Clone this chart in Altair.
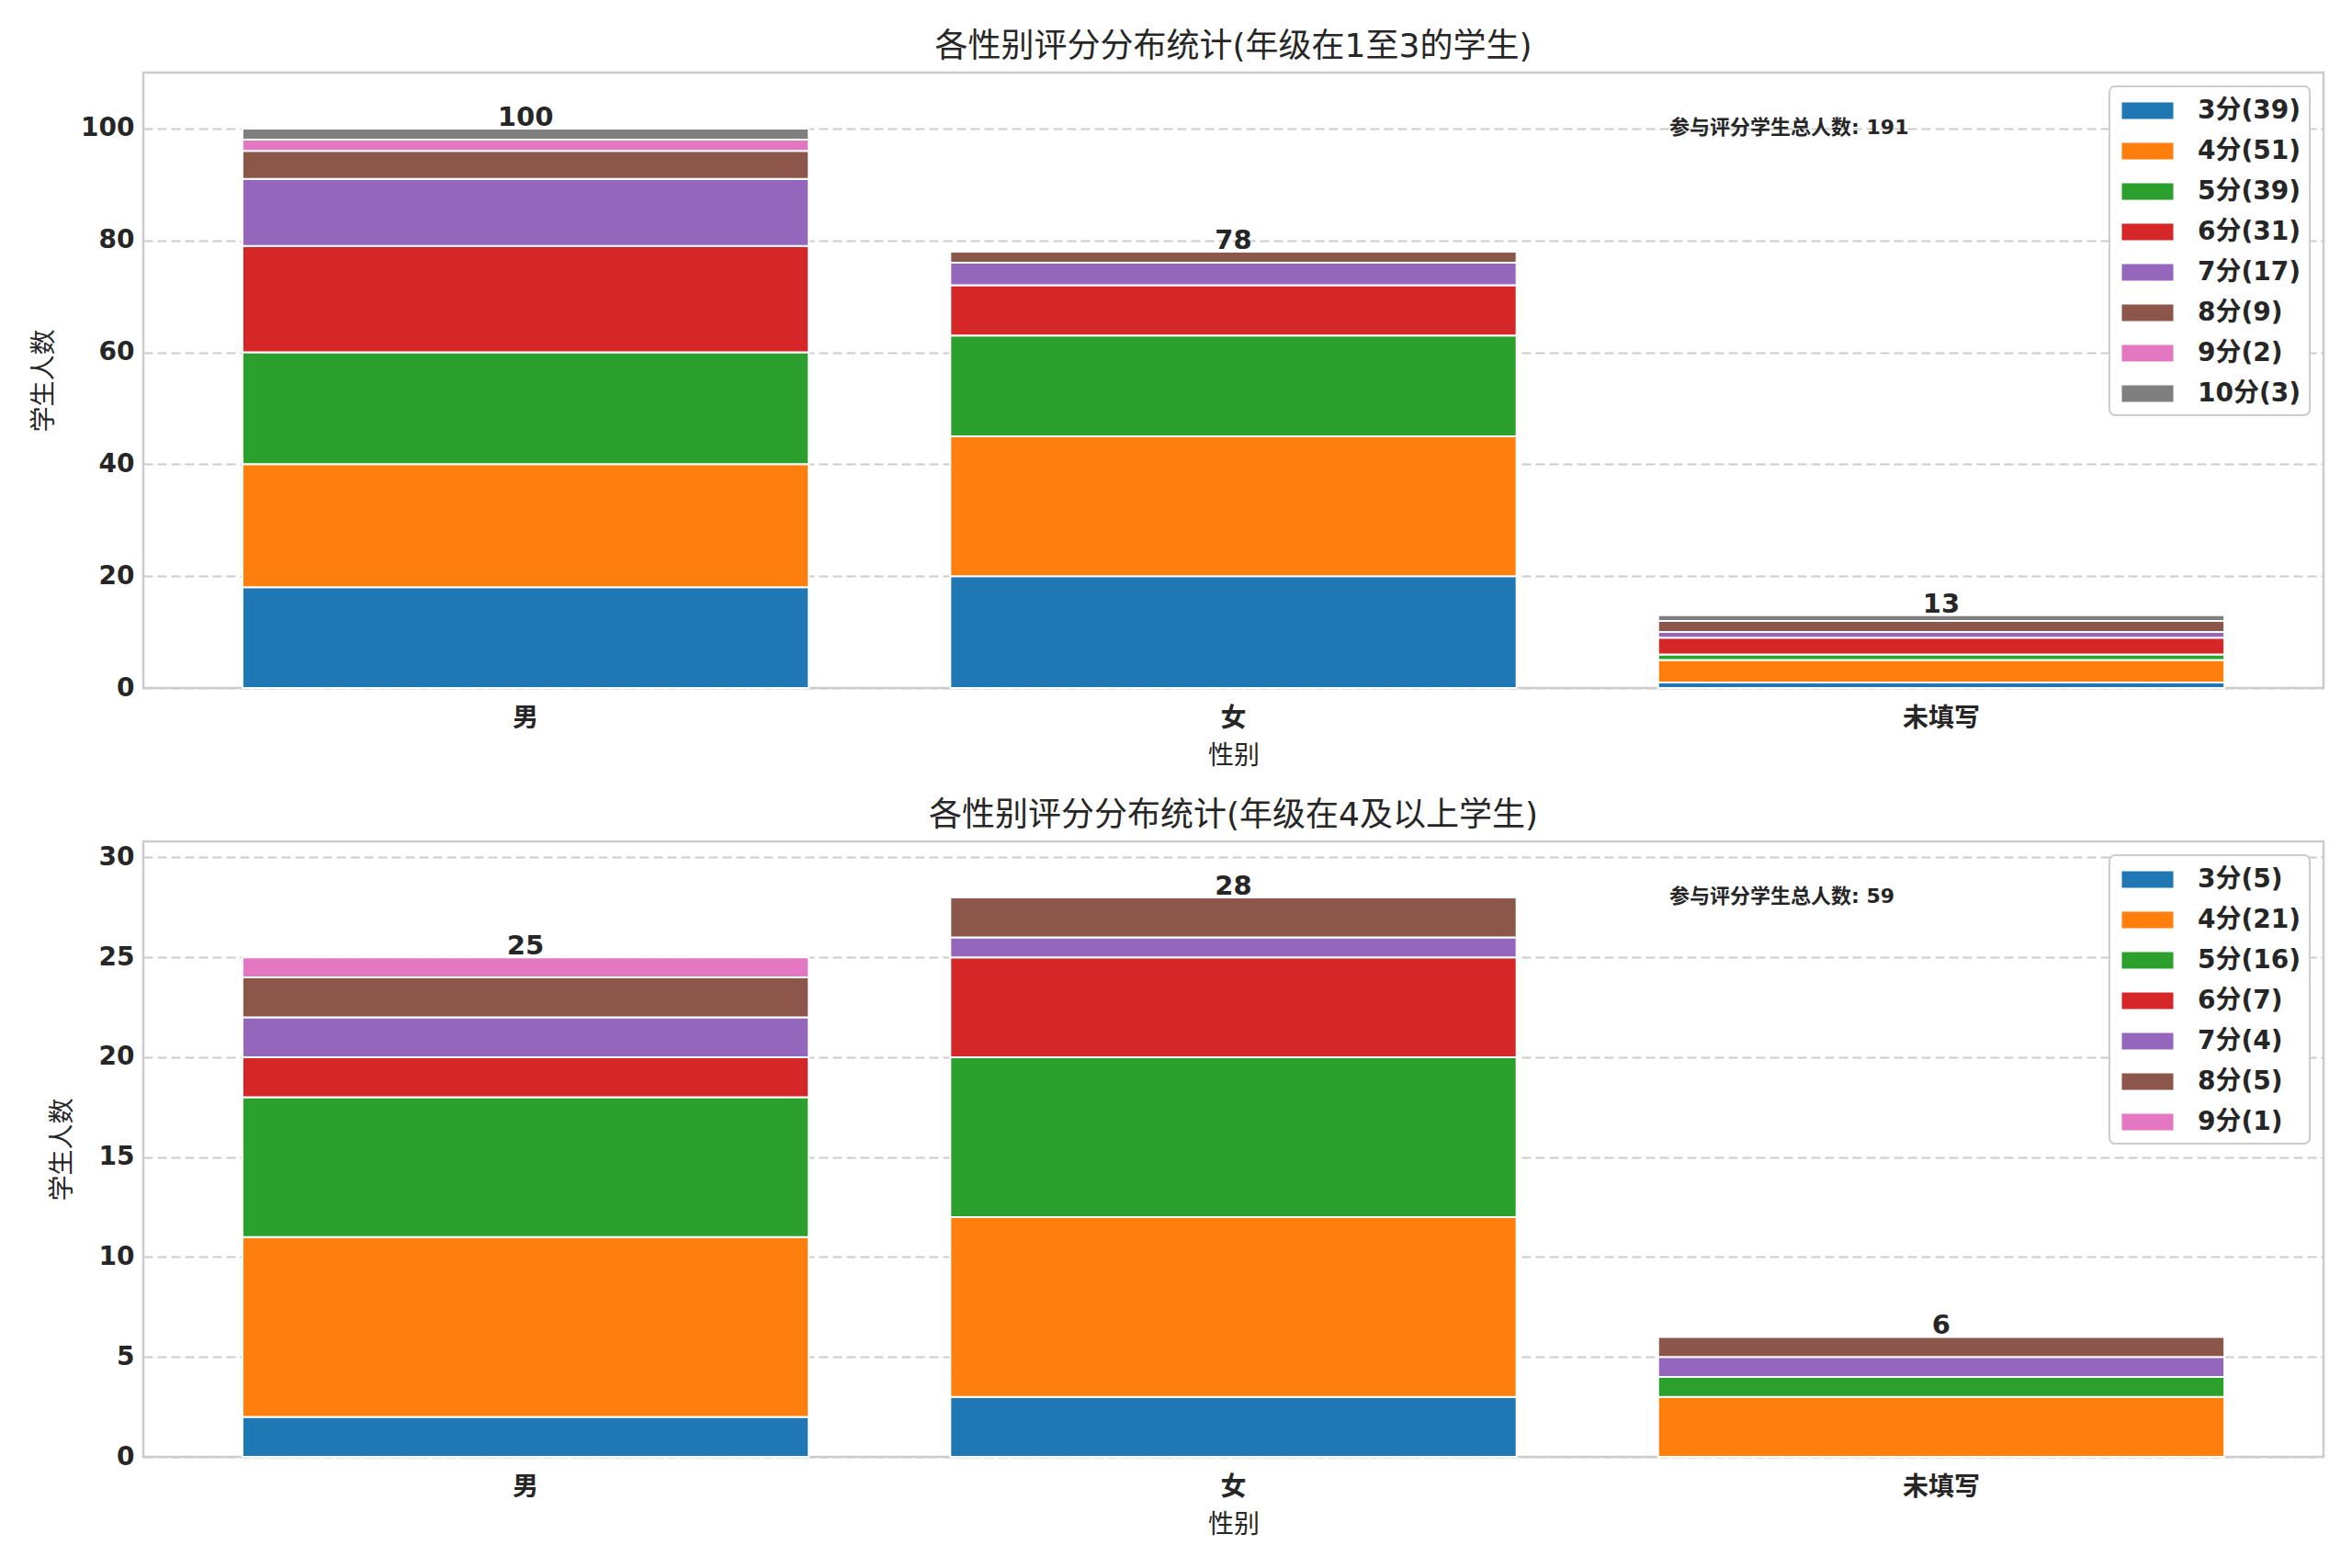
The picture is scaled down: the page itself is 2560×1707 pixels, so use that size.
import altair as alt
import pandas as pd

categories = ["男", "女", "未填写"]

top_levels = [3, 4, 5, 6, 7, 8, 9, 10]
top_counts = [
    [18, 20, 1],
    [22, 25, 4],
    [20, 18, 1],
    [19, 9, 3],
    [12, 4, 1],
    [5, 2, 2],
    [2, 0, 0],
    [2, 0, 1],
]

bottom_levels = [3, 4, 5, 6, 7, 8, 9]
bottom_counts = [
    [2, 3, 0],
    [9, 9, 3],
    [7, 8, 1],
    [2, 5, 0],
    [2, 1, 1],
    [2, 2, 1],
    [1, 0, 0],
]

palette = ["#1f77b4", "#ff7f0e", "#2ca02c", "#d62728",
           "#9467bd", "#8c564b", "#e377c2", "#7f7f7f"]

top_title = "各性别评分分布统计(年级在1至3的学生)"
bottom_title = "各性别评分分布统计(年级在4及以上学生)"
note_prefix = "参与评分学生总人数: "
x_title = "性别"
y_title = "学生人数"

W, H = 2373, 670
FONT = "DejaVu Sans, Noto Sans CJK SC, sans-serif"
TXT = "#262626"


def panel(levels, counts, title, ymax, ystep):
    rows = []
    labels = []
    for i, lvl in enumerate(levels):
        label = f"{lvl}分({sum(counts[i])})"
        labels.append(label)
        for j, cat in enumerate(categories):
            if counts[i][j] > 0:
                rows.append({"cat": cat, "level": lvl, "label": label, "n": counts[i][j]})
    df = pd.DataFrame(rows)
    totals = [sum(c[j] for c in counts) for j in range(len(categories))]
    tdf = pd.DataFrame({"cat": categories, "total": totals})
    grand = sum(totals)
    ndf = pd.DataFrame({"t": [f"{note_prefix}{grand}"]})

    xenc = alt.X("cat:N", sort=categories,
                 scale=alt.Scale(paddingInner=0.2, paddingOuter=0.14),
                 axis=alt.Axis(title=x_title, labelAngle=0, bandPosition=0.5,
                               labelPadding=19, titlePadding=13))
    yscale = alt.Scale(domain=[0, ymax], nice=False, zero=True)
    yaxis = alt.Axis(title=y_title, values=list(range(0, int(ymax) + 1, ystep)),
                     labelPadding=10, titlePadding=25)

    bars = alt.Chart(df).mark_bar(stroke="white", strokeWidth=2).encode(
        x=xenc,
        y=alt.Y("n:Q", stack="zero", scale=yscale, axis=yaxis),
        color=alt.Color("label:N", sort=labels,
                        scale=alt.Scale(domain=labels, range=palette[:len(labels)]),
                        legend=alt.Legend(title=None)),
        order=alt.Order("level:Q", sort="ascending"),
    )
    text = alt.Chart(tdf).mark_text(baseline="bottom", dy=3, fontSize=29,
                                    fontWeight="bold", color=TXT, font=FONT).encode(
        x=alt.X("cat:N", sort=categories),
        y=alt.Y("total:Q"),
        text="total:Q",
    )
    note = alt.Chart(ndf).mark_text(align="left", baseline="middle", fontSize=22,
                                    fontWeight="bold", color=TXT, font=FONT).encode(
        x=alt.value(0.7 * W),
        y=alt.value(0.09 * H),
        text="t:N",
    )
    return alt.layer(bars, text, note).properties(
        width=W, height=H,
        title=alt.TitleParams(title, fontSize=36, fontWeight="normal", color=TXT,
                              font=FONT, offset=9),
    )


top = panel(top_levels, top_counts, top_title, 110, 20)
bottom = panel(bottom_levels, bottom_counts, bottom_title, 30.8, 5)

chart = alt.vconcat(top, bottom, spacing=29).resolve_scale(
    color="independent"
).properties(
    padding={"left": 25, "top": 23, "right": 5, "bottom": 5}
).configure(
    font=FONT,
).configure_view(
    stroke="#cccccc", strokeWidth=2.5,
).configure_axis(
    gridColor="#cccccc", gridDash=[10, 5], gridWidth=2,
    domain=False, ticks=False,
    labelFontSize=28, labelFontWeight="bold", labelColor=TXT, labelFont=FONT,
    titleFontSize=28, titleFontWeight="normal", titleColor=TXT, titleFont=FONT,
).configure_legend(
    orient="top-right", offset=15,
    strokeColor="#cccccc", strokeWidth=2, cornerRadius=6, padding=9,
    fillColor="white",
    labelFontSize=28, labelFontWeight="bold", labelColor=TXT, labelFont=FONT,
    symbolType="M-1.6,-0.51H1.6V0.51H-1.6Z", symbolSize=1225, symbolStrokeWidth=0,
    symbolOpacity=1, symbolOffset=15,
    rowPadding=12, labelOffset=37,
)

chart.save("out.html", embed_options={"renderer": "svg", "actions": False})
